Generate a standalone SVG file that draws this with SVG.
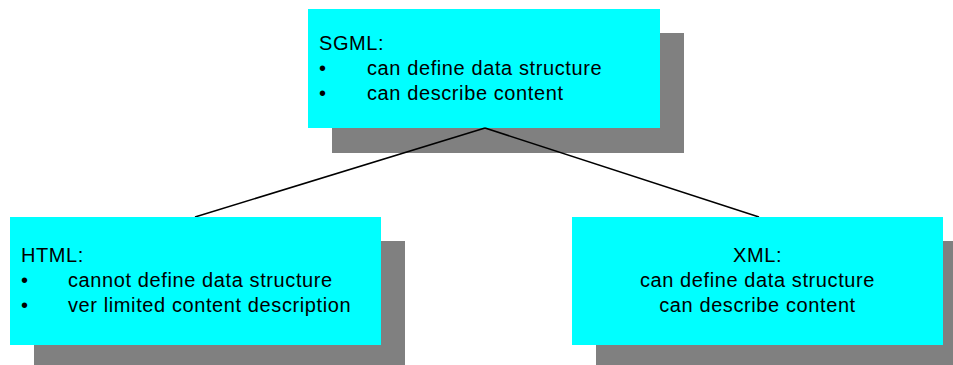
<svg xmlns="http://www.w3.org/2000/svg" width="953" height="365" viewBox="0 0 953 365">
  <style>
    .shadow { fill: #808080; }
    .box { fill: #00ffff; }
    .txt { font-family: "Liberation Sans", Arial, sans-serif; font-size: 20px; letter-spacing: 0.6px; fill: #000; }
    .mid { text-anchor: middle; }
    .link { stroke: #000; stroke-width: 1.6; fill: none; }
  </style>
  <rect width="953" height="365" fill="#fff"/>

  <g id="sgml">
    <rect class="shadow" x="332" y="33" width="352" height="120"/>
    <rect class="box" x="308" y="9" width="352" height="119"/>
    <text class="txt" x="319" y="50">SGML:</text>
    <text class="txt" x="319" y="75">•</text>
    <text class="txt" x="367" y="75">can define data structure</text>
    <text class="txt" x="319" y="100">•</text>
    <text class="txt" x="367" y="100">can describe content</text>
  </g>

  <!-- links run over the top node's shadow -->
  <g id="connectors">
    <line class="link" x1="485" y1="128" x2="195" y2="217"/>
    <line class="link" x1="485" y1="128" x2="759" y2="217"/>
  </g>

  <g id="html">
    <rect class="shadow" x="34" y="241" width="371" height="128"/>
    <rect class="box" x="10" y="217" width="371" height="128"/>
    <text class="txt" x="21" y="262">HTML:</text>
    <text class="txt" x="21" y="287">•</text>
    <text class="txt" x="68" y="287">cannot define data structure</text>
    <text class="txt" x="21" y="312">•</text>
    <text class="txt" x="68" y="312">ver limited content description</text>
  </g>

  <g id="xml">
    <rect class="shadow" x="596" y="241" width="371" height="128"/>
    <rect class="box" x="572" y="217" width="371" height="128"/>
    <text class="txt mid" x="757.5" y="262">XML:</text>
    <text class="txt mid" x="757.5" y="287">can define data structure</text>
    <text class="txt mid" x="757.5" y="312">can describe content</text>
  </g>
</svg>
